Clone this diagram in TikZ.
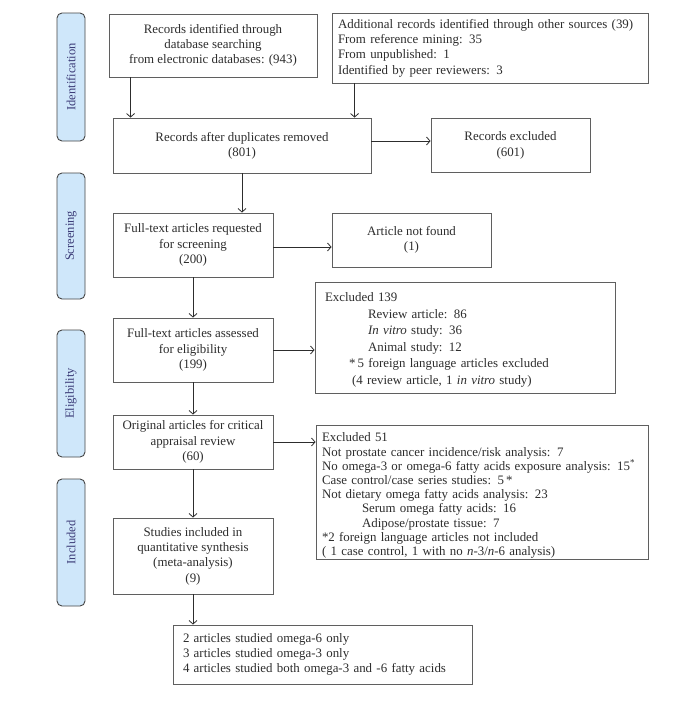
\documentclass[tikz,border=0pt]{standalone}
\usepackage{fontspec}
\setmainfont{Liberation Serif}
\usetikzlibrary{arrows.meta,calc}
\definecolor{boxline}{RGB}{95,95,95}
\definecolor{txt}{RGB}{45,45,45}
\definecolor{sidefill}{RGB}{207,231,250}
\definecolor{sideline}{RGB}{70,70,70}
\definecolor{sidetext}{RGB}{60,60,120}
\begin{document}
\begin{tikzpicture}[x=1pt,y=-1pt,
  every node/.style={font=\fontsize{12.9}{15.3}\selectfont, text=txt},
  box/.style={draw=boxline, line width=0.9pt, inner sep=0pt, align=center},
  lbox/.style={box, align=left},
  side/.style={draw=sideline, fill=sidefill, line width=0.9pt, rounded corners=5pt,
    rotate=90, minimum height=28pt, inner sep=0pt, text=sidetext,
    font=\fontsize{12.5}{15}\selectfont},
  arr/.style={draw=txt, line width=0.8pt, -{Straight Barb[length=3.5pt,width=8pt]}}]
\useasboundingbox[fill=white] (0,0) rectangle (691,704);

% side labels
\node[side, minimum width=128pt] (s1) at (71,77) {Identification};
\node[side, minimum width=126pt] (s2) at (71,236) {Screening};
\node[side, minimum width=127pt] (s3) at (71,393.5) {Eligibility};
\node[side, minimum width=127pt] (s4) at (71,542.5) {Included};

% boxes
\node[box, minimum width=208pt, minimum height=63pt] (A) at (213,45.5)
  {Records identified through\\database searching\\from electronic databases: (943)};
\node[lbox, minimum width=316pt, minimum height=70pt, text width=304pt] (B) at (490,48)
  {Additional records identified through other sources (39)\\From reference mining: 35\\From unpublished: 1\\Identified by peer reviewers: 3};
\node[box, minimum width=258pt, minimum height=55pt] (C) at (242,145.5)
  {Records after duplicates removed\\(801)};
\node[box, minimum width=159pt, minimum height=54pt] (D) at (510.5,145.5)
  {Records excluded\\(601)};
\node[box, minimum width=160pt, minimum height=64pt] (E) at (193,245)
  {Full-text articles requested\\for screening\\(200)};
\node[box, minimum width=159pt, minimum height=54pt] (F) at (411.5,240)
  {Article not found\\(1)};
\node[box, minimum width=160pt, minimum height=64pt] (G) at (193,350)
  {Full-text articles assessed\\for eligibility\\(199)};
\node[lbox, minimum width=300pt, minimum height=111pt, text width=280pt,
  font=\fontsize{12.9}{16.5}\selectfont] (H) at (465,337.5)
  {\rule{0pt}{14pt}Excluded 139\\
   \hspace*{43pt}Review article: 86\\
   \hspace*{43pt}\textit{In vitro} study: 36\\
   \hspace*{43pt}Animal study: 12\\
   \hspace*{24pt}{*}\,5 foreign language articles excluded\\
   \hspace*{27pt}(4 review article, 1 \textit{in vitro} study)};
\node[box, minimum width=160pt, minimum height=54pt] (I) at (193,442)
  {Original articles for critical\\appraisal review\\(60)};
\node[lbox, minimum width=332pt, minimum height=134pt, text width=320pt,
  font=\fontsize{12.9}{14.2}\selectfont] (J) at (482,492)
  {\rule{0pt}{16pt}Excluded 51\\
   Not prostate cancer incidence/risk analysis: 7\\
   No omega-3 or omega-6 fatty acids exposure analysis: 15\textsuperscript{*}\\
   Case control/case series studies: 5\,*\\
   Not dietary omega fatty acids analysis: 23\\
   \hspace*{40pt}Serum omega fatty acids: 16\\
   \hspace*{40pt}Adipose/prostate tissue: 7\\
   {*}2 foreign language articles not included\\
   ( 1 case control, 1 with no \textit{n}-3/\textit{n}-6 analysis)};
\node[box, minimum width=160pt, minimum height=76pt] (K) at (193,556)
  {Studies included in\\quantitative synthesis\\(meta-analysis)\\(9)};
\node[lbox, minimum width=299pt, minimum height=59pt, text width=279pt] (L) at (322.5,654.5)
  {2 articles studied omega-6 only\\3 articles studied omega-3 only\\4 articles studied both omega-3 and -6 fatty acids};

% connectors
\draw[arr] ([xshift=22pt]A.south west) -- ([xshift=22pt]A.south west |- C.north);
\draw[arr] ([xshift=23pt]B.south west) -- ([xshift=23pt]B.south west |- C.north);
\draw[arr] ([yshift=4.5pt]C.east) -- ([yshift=4.5pt]C.east -| D.west);
\draw[arr] (C.south) -- (C.south |- E.north);
\draw[arr] ([yshift=-2pt]E.east) -- ([yshift=-2pt]E.east -| F.west);
\draw[arr] (E.south) -- (G.north);
\draw[arr] (G.east) -- (G.east -| H.west);
\draw[arr] (G.south) -- (I.north);
\draw[arr] (I.east) -- (I.east -| J.west);
\draw[arr] (I.south) -- (K.north);
\draw[arr] (K.south) -- (K.south |- L.north);
\end{tikzpicture}
\end{document}
